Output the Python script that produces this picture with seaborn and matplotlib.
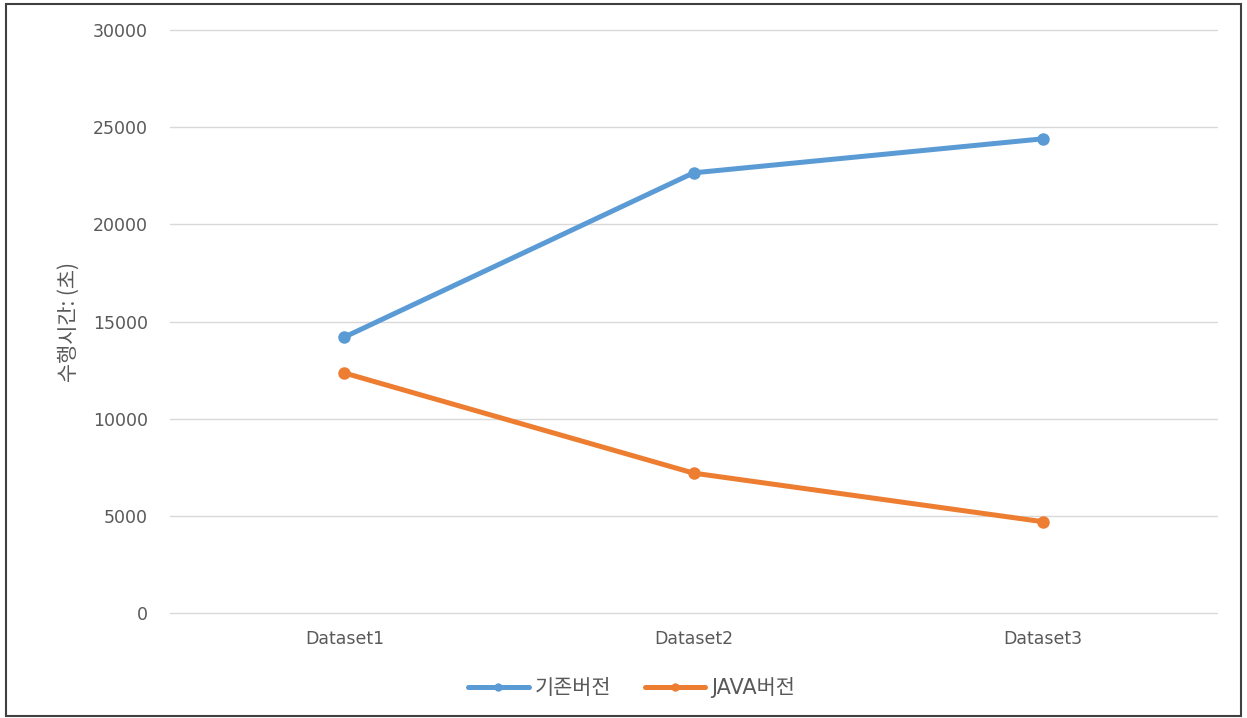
import matplotlib
matplotlib.use("Agg")
import matplotlib.pyplot as plt
import matplotlib.patches as mpatches
import seaborn as sns
import pandas as pd

# Execution time per dataset for each implementation
datasets = ["Dataset1", "Dataset2", "Dataset3"]
legacy_times = [14200, 22650, 24400]
java_times = [12350, 7200, 4700]
series_names = ["기존버전", "JAVA버전"]
y_ticks = [0, 5000, 10000, 15000, 20000, 25000, 30000]

df = pd.DataFrame({
    "dataset": datasets * 2,
    "time": legacy_times + java_times,
    "version": [series_names[0]] * 3 + [series_names[1]] * 3,
})

sns.set_theme(style="white")
plt.rcParams["font.family"] = ["DejaVu Sans", "Noto Sans CJK KR"]

fig = plt.figure(figsize=(12.47, 7.18), dpi=100)
ax = fig.add_axes([0.1363, 0.1462, 0.8397, 0.8120])

palette = {series_names[0]: "#5B9BD5", series_names[1]: "#ED7D31"}
sns.lineplot(data=df, x="dataset", y="time", hue="version", palette=palette,
             marker="o", markersize=9, markeredgewidth=0, linewidth=3.6,
             sort=False, ax=ax)

ax.set_xlim(-0.5, 2.5)
ax.set_ylim(0, 30000)
ax.set_yticks(y_ticks)
ax.set_yticklabels([str(t) for t in y_ticks])
ax.grid(axis="y", color="#D9D9D9", linewidth=1.0)
for gl in ax.get_ygridlines():
    gl.set_clip_on(False)
ax.set_axisbelow(True)
for s in ax.spines.values():
    s.set_visible(False)
ax.tick_params(axis="both", length=0, colors="#595959", labelsize=12.5)
ax.tick_params(axis="y", pad=16)
ax.tick_params(axis="x", pad=12)
ax.set_xlabel("")
ax.set_ylabel("수행시간: (초)", color="#595959", fontsize=15, labelpad=9,
              family=["Noto Sans CJK KR", "DejaVu Sans"])

handles, labels = ax.get_legend_handles_labels()
leg = ax.legend(handles, labels, loc="center", bbox_to_anchor=(0.441, -0.128),
                ncol=2, frameon=False, handlelength=2.9,
                handletextpad=0.3, columnspacing=1.6, labelcolor="#595959",
                prop={"family": ["DejaVu Sans", "Noto Sans CJK KR"], "size": 15})
for h in leg.legend_handles:
    h.set_markersize(6)

# outer frame around the chart
fig.patches.append(mpatches.Rectangle((0.005, 0.003), 0.99, 0.991,
                                      transform=fig.transFigure, fill=False,
                                      edgecolor="#404040", linewidth=1.5))

fig.savefig("out.png", dpi=100)
